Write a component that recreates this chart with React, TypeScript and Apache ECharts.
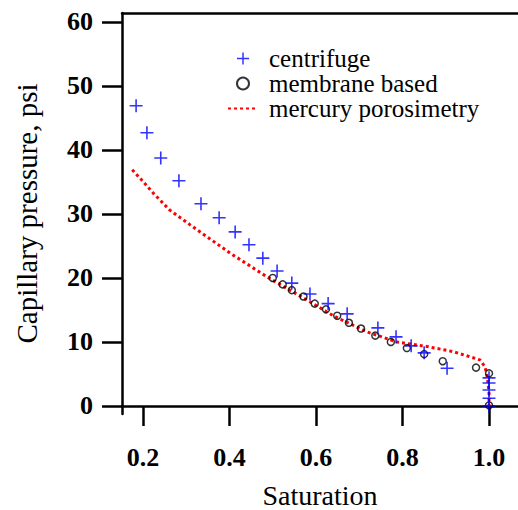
import React, { useEffect, useRef } from "react";
import * as echarts from "echarts";

const centrifuge: [number, number][] = [
  [0.184, 46.9], [0.209, 42.7], [0.241, 38.75], [0.283, 35.2], [0.334, 31.6],
  [0.376, 29.4], [0.413, 27.2], [0.445, 25.2], [0.477, 23.1], [0.51, 21.1],
  [0.544, 19.2], [0.586, 17.5], [0.628, 16.0], [0.672, 14.4], [0.743, 12.2],
  [0.785, 10.8], [0.82, 9.4], [0.85, 8.3], [0.903, 5.9], [1.0, 4.4],
  [1.0, 3.6], [1.0, 2.5], [1.0, 1.2], [1.0, 0],
];

const membrane: [number, number][] = [
  [0.5, 20.0], [0.523, 19.0], [0.544, 18.1], [0.571, 17.1], [0.597, 16.0],
  [0.623, 15.1], [0.649, 14.1], [0.676, 13.0], [0.704, 12.1], [0.737, 11.0],
  [0.773, 10.0], [0.81, 9.05], [0.85, 8.1], [0.893, 7.0], [0.97, 6.0],
  [1.0, 5.1], [1.0, 0.1],
];

const mercury: [number, number][] = [
  [0.175, 36.9], [0.197, 35.3], [0.223, 33.3], [0.262, 30.6], [0.309, 28.3],
  [0.355, 26.1], [0.401, 23.9], [0.447, 21.9], [0.486, 20.2], [0.532, 18.4],
  [0.578, 16.6], [0.64, 14.1], [0.717, 11.6], [0.787, 10.0], [0.856, 9.3],
  [0.917, 8.5], [0.979, 7.2], [0.991, 6.1], [0.997, 4.1], [1.0, 2.0], [1.0, 0],
];

const xTicks = [0.2, 0.4, 0.6, 0.8, 1.0];
const yTicks = [0, 10, 20, 30, 40, 50, 60];
const seriesNames = ["centrifuge", "membrane based", "mercury porosimetry"];

const PLUS = "path://M5.7,0h1.6v5.7h5.7v1.6h-5.7v5.7h-1.6v-5.7h-5.7v-1.6h5.7z";
const SERIF = "'Liberation Serif', serif";

export default function App() {
  const ref = useRef<HTMLDivElement>(null);
  useEffect(() => {
    if (!ref.current) return;
    const chart = echarts.init(ref.current, undefined, { renderer: "svg" });
    chart.setOption({
      animation: false,
      backgroundColor: "#ffffff",
      grid: { left: 122, right: 0, top: 13, bottom: 96, containLabel: false, outerBoundsMode: "none" },
      legend: {
        orient: "vertical",
        left: 227,
        top: 46,
        padding: 0,
        itemWidth: 30,
        itemHeight: 12,
        itemGap: 0,
        data: [
          { name: seriesNames[0] },
          { name: seriesNames[1] },
          { name: seriesNames[2], itemStyle: { opacity: 0 } },
        ],
        textStyle: { fontFamily: SERIF, fontSize: 25, color: "#000", lineHeight: 25, padding: [0, 0, 0, 6] },
      },
      xAxis: [
        {
          type: "value",
          min: 0.1514,
          max: 1.067,
          name: "Saturation",
          nameLocation: "middle",
          nameGap: 67.5,
          nameTextStyle: { fontFamily: SERIF, fontSize: 28, color: "#000" },
          splitLine: { show: false },
          axisLine: { show: true, lineStyle: { color: "#000", width: 2.5 } },
          axisTick: { show: true, length: 20, customValues: xTicks, lineStyle: { color: "#000", width: 2.5 } },
          axisLabel: {
            customValues: xTicks,
            formatter: (v: number) => v.toFixed(1),
            margin: 30,
            fontFamily: SERIF,
            fontWeight: "bold",
            fontSize: 26,
            color: "#000",
          },
        },
        {
          type: "value",
          position: "top",
          min: 0.1514,
          max: 1.067,
          splitLine: { show: false },
          axisLine: { show: true, lineStyle: { color: "#000", width: 2.5 } },
          axisTick: { show: false },
          axisLabel: { show: false },
        },
      ],
      yAxis: {
        type: "value",
        min: -1.25,
        max: 61.4,
        name: "Capillary pressure, psi",
        nameLocation: "middle",
        nameGap: 81,
        nameTextStyle: { fontFamily: SERIF, fontSize: 29, color: "#000" },
        splitLine: { show: false },
        axisLine: { show: true, lineStyle: { color: "#000", width: 2.5 } },
        axisTick: { show: true, length: 20, customValues: yTicks, lineStyle: { color: "#000", width: 2.5 } },
        axisLabel: {
          customValues: yTicks,
          margin: 29,
          fontFamily: SERIF,
          fontWeight: "bold",
          fontSize: 26,
          color: "#000",
        },
      },
      series: [
        {
          name: "mercury porosimetry",
          type: "line",
          data: mercury,
          symbol: "none",
          showSymbol: false,
          lineStyle: { color: "#ff0000", width: 3, type: [3, 3] },
          itemStyle: { color: "#ff0000" },
          z: 2,
        },
        {
          name: "membrane based",
          type: "scatter",
          data: membrane,
          symbol: "circle",
          symbolSize: 7,
          itemStyle: { color: "rgba(0,0,0,0)", borderColor: "#000", borderWidth: 1.5 },
          z: 3,
        },
        {
          name: "centrifuge",
          type: "scatter",
          data: centrifuge,
          symbol: PLUS,
          symbolSize: 13,
          itemStyle: { color: "#0000ff" },
          z: 4,
        },
      ],
    });
    return () => chart.dispose();
  }, []);
  return <div ref={ref} style={{ width: 518, height: 510, position: "absolute", left: 0, top: 0 }} />;
}
